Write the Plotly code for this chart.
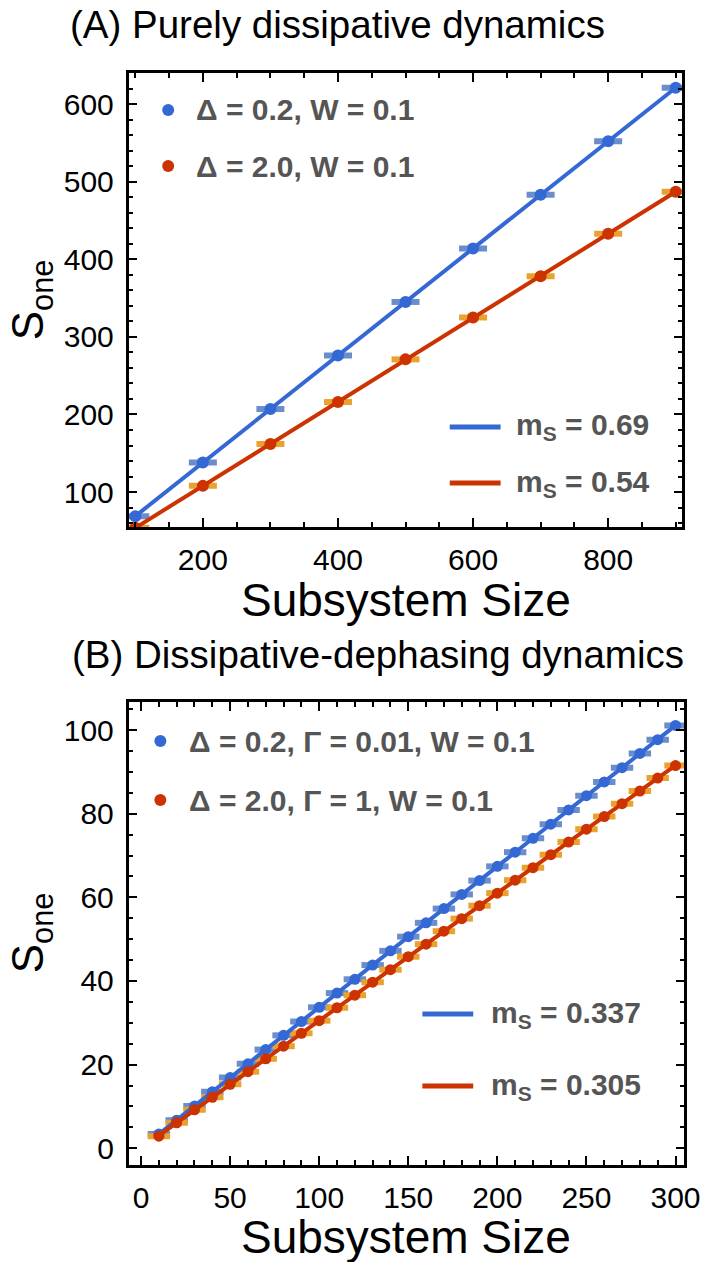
import numpy as np
import plotly.graph_objects as go

W, H = 719, 1262

# ---------------- data ----------------
size_a = [100, 200, 300, 400, 500, 600, 700, 800, 900]
s_a_blue = [69, 138, 207, 276, 345, 414, 483, 552, 621]
s_a_red = [54, 108, 162, 216, 271, 325, 378, 433, 487]

size_b = [10, 20, 30, 40, 50, 60, 70, 80, 90, 100, 110, 120, 130, 140, 150,
          160, 170, 180, 190, 200, 210, 220, 230, 240, 250, 260, 270, 280, 290, 300]
s_b_blue = [3.4, 6.7, 10.1, 13.5, 16.9, 20.2, 23.6, 27.0, 30.3, 33.7, 37.1, 40.4,
            43.8, 47.2, 50.6, 53.9, 57.3, 60.7, 64.0, 67.4, 70.8, 74.1, 77.5, 80.9,
            84.3, 87.6, 91.0, 94.4, 97.7, 101.1]
s_b_red = [2.9, 6.1, 9.2, 12.2, 15.3, 18.3, 21.4, 24.4, 27.5, 30.5, 33.6, 36.6,
           39.7, 42.7, 45.8, 48.8, 51.9, 54.9, 58.0, 61.0, 64.1, 67.1, 70.2, 73.2,
           76.3, 79.3, 82.4, 85.4, 88.5, 91.5]

legend_a_points = ["Δ = 0.2, W = 0.1", "Δ = 2.0, W = 0.1"]
legend_a_lines = ["m<sub>S</sub> = 0.69", "m<sub>S</sub> = 0.54"]
legend_b_points = ["Δ = 0.2, Γ = 0.01, W = 0.1", "Δ = 2.0, Γ = 1, W = 0.1"]
legend_b_lines = ["m<sub>S</sub> = 0.337", "m<sub>S</sub> = 0.305"]

# ---------------- style ----------------
BLUE = "#3468D4"
RED = "#CC3300"
LBLUE = "#6A8DCB"
ORANGE = "#E9A230"
GREY = "#555555"
FONT = "Liberation Sans"


def fx(p):
    return p / W


def fy(p):
    return 1 - p / H


fig = go.Figure()


def add_panel(xs, yb, yr, xa, ya, dot, dash_w, lw):
    for ys, light in ((yb, LBLUE), (yr, ORANGE)):
        fig.add_trace(go.Scatter(
            x=xs, y=ys, mode="markers", xaxis=xa, yaxis=ya, showlegend=False,
            marker=dict(symbol="line-ew", size=dash_w, color=light,
                        line=dict(color=light, width=6)),
            cliponaxis=True))
    for ys, col in ((yb, BLUE), (yr, RED)):
        k, b = np.polyfit(xs, ys, 1)
        xf = np.array([min(xs), max(xs)])
        fig.add_trace(go.Scatter(
            x=xf, y=k * xf + b, mode="lines", xaxis=xa, yaxis=ya,
            showlegend=False, line=dict(color=col, width=lw)))
        fig.add_trace(go.Scatter(
            x=xs, y=ys, mode="markers", xaxis=xa, yaxis=ya, showlegend=False,
            marker=dict(size=dot, color=col)))


add_panel(size_a, s_a_blue, s_a_red, "x", "y", 12, 20, 4)
add_panel(size_b, s_b_blue, s_b_red, "x2", "y2", 11, 16, 4)

axis_common = dict(
    showline=True, linecolor="black", linewidth=2.5, mirror="allticks",
    ticks="inside", ticklen=9, tickwidth=2, tickcolor="black",
    showgrid=False, zeroline=False,
    tickfont=dict(family=FONT, size=30, color="black"),
)
minor_common = dict(ticklen=5, tickwidth=1.5, ticks="inside", tickcolor="black")

fig.update_layout(
    width=W, height=H, margin=dict(l=0, r=0, t=0, b=0),
    plot_bgcolor="white", paper_bgcolor="white", showlegend=False,
    xaxis=dict(domain=[fx(131.5), fx(698)], range=[90, 910], anchor="y",
               tick0=0, dtick=200, ticklabelstandoff=4,
               minor=dict(dtick=50, **minor_common), **axis_common),
    yaxis=dict(domain=[fy(527), fy(73)], range=[55, 640], anchor="x",
               tick0=0, dtick=100, ticklabelstandoff=6,
               minor=dict(dtick=20, **minor_common), **axis_common),
    xaxis2=dict(domain=[fx(131.5), fx(700)], range=[-7, 305], anchor="y2",
                tick0=0, dtick=50, ticklabelstandoff=4,
                minor=dict(dtick=10, **minor_common), **axis_common),
    yaxis2=dict(domain=[fy(1165), fy(702)], range=[-4, 106.7], anchor="x2",
                tick0=0, dtick=20, ticklabelstandoff=6,
                minor=dict(dtick=5, **minor_common), **axis_common),
)

ann = []
shapes = []


def text(x, y, s, size, xanchor="left", color="black", bold=False, angle=0):
    if bold:
        s = "<b>" + s + "</b>"
    ann.append(dict(x=fx(x), y=fy(y), xref="paper", yref="paper", text=s,
                    showarrow=False, xanchor=xanchor, yanchor="middle",
                    textangle=angle,
                    font=dict(family=FONT, size=size, color=color)))


# titles
text(70, 24, "(A) Purely dissipative dynamics", 38.5)
text(72, 654, "(B) Dissipative-dephasing dynamics", 38.5)
# axis titles
text(415, 600, "Subsystem Size", 46, xanchor="center")
text(415, 1237, "Subsystem Size", 46, xanchor="center")
text(32, 300, "S<sub>one</sub>", 44, xanchor="center", angle=-90)
text(32, 933, "S<sub>one</sub>", 44, xanchor="center", angle=-90)


def dot(x, y, col, d=12):
    shapes.append(dict(type="circle", xref="paper", yref="paper",
                       xsizemode="pixel", ysizemode="pixel",
                       xanchor=fx(x), yanchor=fy(y),
                       x0=-d / 2, x1=d / 2, y0=-d / 2, y1=d / 2,
                       fillcolor=col, line=dict(width=0)))


def seg(x0, x1, y, col):
    shapes.append(dict(type="line", xref="paper", yref="paper",
                       x0=fx(x0), x1=fx(x1), y0=fy(y), y1=fy(y),
                       line=dict(color=col, width=5)))


LEG = 30
# legends panel A
dot(172, 110, BLUE)
dot(172, 166, RED)
text(198, 110, legend_a_points[0], LEG, color=GREY, bold=True)
text(198, 166, legend_a_points[1], LEG, color=GREY, bold=True)
seg(460, 512, 427, BLUE)
seg(460, 512, 483, RED)
text(526, 427, legend_a_lines[0], LEG, color=GREY, bold=True)
text(526, 483, legend_a_lines[1], LEG, color=GREY, bold=True)

# legends panel B
dot(164, 741, BLUE)
dot(164, 800, RED)
text(191, 741, legend_b_points[0], LEG, color=GREY, bold=True)
text(191, 800, legend_b_points[1], LEG, color=GREY, bold=True)
seg(432, 484, 1014, BLUE)
seg(432, 484, 1086, RED)
text(500, 1014, legend_b_lines[0], LEG, color=GREY, bold=True)
text(500, 1086, legend_b_lines[1], LEG, color=GREY, bold=True)

fig.update_layout(annotations=ann, shapes=shapes)
fig.write_html("out.html")
